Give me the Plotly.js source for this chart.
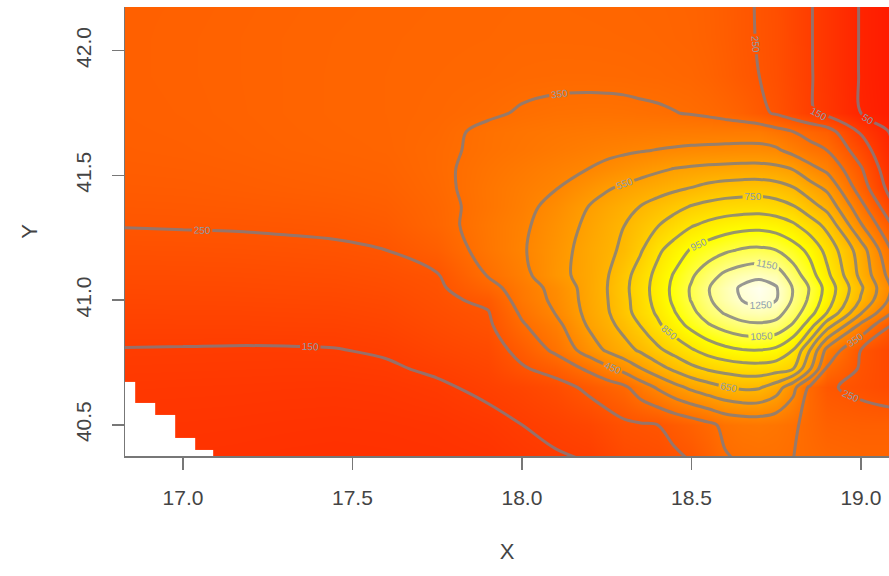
<!DOCTYPE html>
<html>
<head>
<meta charset="utf-8">
<script src="https://cdn.plot.ly/plotly-3.0.1.min.js"></script>
<style>
  html, body { margin: 0; padding: 0; background: #ffffff; }
  #chart { width: 889px; height: 576px; }
</style>
</head>
<body>
<div id="chart"></div>
<script>
// grid node positions (longitude X, latitude Y)
const xGrid = [16.82, 17.0, 17.15, 17.3, 17.45, 17.6, 17.75, 17.9, 18.0, 18.1, 18.2, 18.25, 18.3, 18.35,
               18.4, 18.45, 18.5, 18.55, 18.6, 18.65, 18.7, 18.75, 18.8, 18.85, 18.9, 19.0, 19.1];
const yGrid = [40.35, 40.5, 40.65, 40.725, 40.8, 40.9, 40.95, 41.0, 41.05, 41.1, 41.2, 41.3,
               41.375, 41.45, 41.525, 41.6, 41.675, 41.75, 41.9, 42.05, 42.2];

// estimated surface values, one row per yGrid entry (bottom to top)
const zRows = [
  [105,105,103,100,98,100,103,108,125,140,150,175,200,208,215,232,250,290,340,355,360,360,350,340,330,320,320],
  [115,115,113,110,108,110,115,130,150,168,190,212,235,242,250,275,300,330,370,385,390,380,360,330,300,290,290],
  [130,128,127,125,124,128,140,165,185,215,270,300,330,400,460,520,570,610,645,665,660,600,480,330,260,230,200],
  [139,138,137,136,136,142,160,185,240,285,370,425,480,545,610,670,725,762,787,803,807,792,754,560,340,240,190],
  [148,147,146,146,148,157,183,205,280,370,500,562,612,665,730,786,840,890,925,946,950,930,850,650,420,250,180],
  [168,169,169,171,172,181,208,235,340,420,566,619,680,754,832,906,979,1042,1090,1125,1136,1120,1040,900,700,430,230],
  [178,179,179,181,183,192,218,245,365,455,582,637,712,791,864,945,1023,1104,1160,1200,1212,1190,1100,990,850,560,330],
  [189,190,191,193,195,203,228,270,390,470,589,644,718,800,885,970,1055,1138,1199,1252,1280,1252,1138,1030,900,640,400],
  [199,200,201,204,206,215,236,315,400,480,592,647,723,805,890,975,1060,1145,1207,1265,1295,1257,1144,1042,914,665,420],
  [210,211,212,215,218,227,245,355,422,517,591,641,714,795,879,960,1036,1108,1170,1205,1225,1202,1101,992,874,624,386],
  [231,232,234,237,241,250,290,385,440,510,590,625,668,740,830,895,960,1000,1035,1060,1068,1050,995,925,820,600,320],
  [252,254,255,258,262,275,318,390,433,497,572,610,648,697,745,793,842,875,900,916,920,904,866,800,724,460,230],
  [264,266,269,273,278,288,322,381,422,479,554,587,619,652,687,721,756,779,795,802,806,792,758,690,620,380,150],
  [275,277,282,288,293,300,330,383,415,446,508,540,565,587,609,631,652,676,692,701,703,689,655,590,530,300,90],
  [282,285,290,297,302,308,335,376,401,426,452,473,494,515,535,554,565,574,580,584,585,574,548,480,430,260,60],
  [288,292,298,305,310,315,335,366,383,401,419,428,436,445,453,460,466,470,473,475,475,465,420,380,350,200,40],
  [291,295,301,308,313,317,330,365,378,388,395,398,400,402,404,406,407,408,408,409,408,380,350,320,290,140,30],
  [293,298,304,310,315,318,325,340,356,365,368,368,366,362,358,352,345,335,320,300,270,240,200,160,125,50,10],
  [295,300,305,310,315,318,322,326,332,335,335,334,333,330,328,324,320,308,290,268,250,228,192,156,120,45,5],
  [295,300,305,310,314,317,320,322,325,325,324,323,322,320,318,314,310,300,284,263,246,226,190,155,120,45,5],
  [295,298,303,308,312,315,318,320,322,322,320,319,318,316,315,311,308,298,282,262,245,225,190,155,120,45,5]
];

// cells with no data (bottom-left staircase), given by cell edges
const maskXEdges = [16.80, 16.858, 16.917, 16.976, 17.035, 17.088];
const maskYEdges = [40.30, 40.40, 40.448, 40.54, 40.588, 40.672];
const maskRows = [
  [1, 1, 1, 1, 1],
  [1, 1, 1, 1, null],
  [1, 1, 1, null, null],
  [1, 1, null, null, null],
  [1, null, null, null, null]
];

const contourStart = 50, contourEnd = 1250, contourStep = 100;
const xTicks = [17.0, 17.5, 18.0, 18.5, 19.0];
const xTickText = ['17.0', '17.5', '18.0', '18.5', '19.0'];
const yTicks = [40.5, 41.0, 41.5, 42.0];
const yTickText = ['40.5', '41.0', '41.5', '42.0'];

const heatScale = [[0, 'rgb(255,0,0)'], [0.75, 'rgb(255,255,0)'], [1, 'rgb(255,255,242)']];

const traces = [
  {
    type: 'heatmap', x: xGrid, y: yGrid, z: zRows,
    zmin: -100, zmax: 1300, colorscale: heatScale, zsmooth: 'best',
    showscale: false, hoverinfo: 'skip'
  },
  {
    type: 'contour', x: xGrid, y: yGrid, z: zRows,
    autocontour: false,
    contours: { start: contourStart, end: contourEnd, size: contourStep, coloring: 'none',
                showlabels: true, labelfont: { size: 10, color: '#8a9cac', family: 'Liberation Sans, Arial, sans-serif' } },
    line: { color: 'rgba(125,125,132,0.8)', width: 3, smoothing: 1.0 },
    showscale: false, hoverinfo: 'skip'
  },
  {
    type: 'heatmap', x: maskXEdges, y: maskYEdges, z: maskRows,
    colorscale: [[0, '#ffffff'], [1, '#ffffff']], showscale: false, hoverinfo: 'skip'
  }
];

const axisFont = { family: 'Liberation Sans, Arial, sans-serif', size: 21, color: '#444444' };

const layout = {
  width: 889, height: 576,
  margin: { l: 125, r: 0, t: 7, b: 120 },
  paper_bgcolor: '#ffffff', plot_bgcolor: '#ffffff',
  font: { family: 'Liberation Sans, Arial, sans-serif', color: '#444444' },
  showlegend: false,
  xaxis: {
    range: [16.829, 19.083], tickvals: xTicks, ticktext: xTickText,
    ticks: 'outside', ticklen: 12, tickwidth: 1.5, tickcolor: '#777777',
    showline: true, linecolor: '#777777', linewidth: 1.5,
    showgrid: false, zeroline: false, tickfont: axisFont, ticklabelstandoff: 10,
    title: { text: 'X', font: { family: 'Liberation Sans, Arial, sans-serif', size: 22, color: '#444444' }, standoff: 36 }
  },
  yaxis: {
    range: [40.375, 42.175], tickvals: yTicks, ticktext: yTickText, tickangle: -90,
    ticks: 'outside', ticklen: 12, tickwidth: 1.5, tickcolor: '#777777',
    showline: true, linecolor: '#777777', linewidth: 1.5,
    showgrid: false, zeroline: false, tickfont: axisFont, ticklabelstandoff: 12,
    title: { text: 'Y', font: { family: 'Liberation Sans, Arial, sans-serif', size: 22, color: '#444444' }, standoff: 28 }
  }
};

Plotly.newPlot('chart', traces, layout, { displayModeBar: false, staticPlot: true });
</script>
</body>
</html>
